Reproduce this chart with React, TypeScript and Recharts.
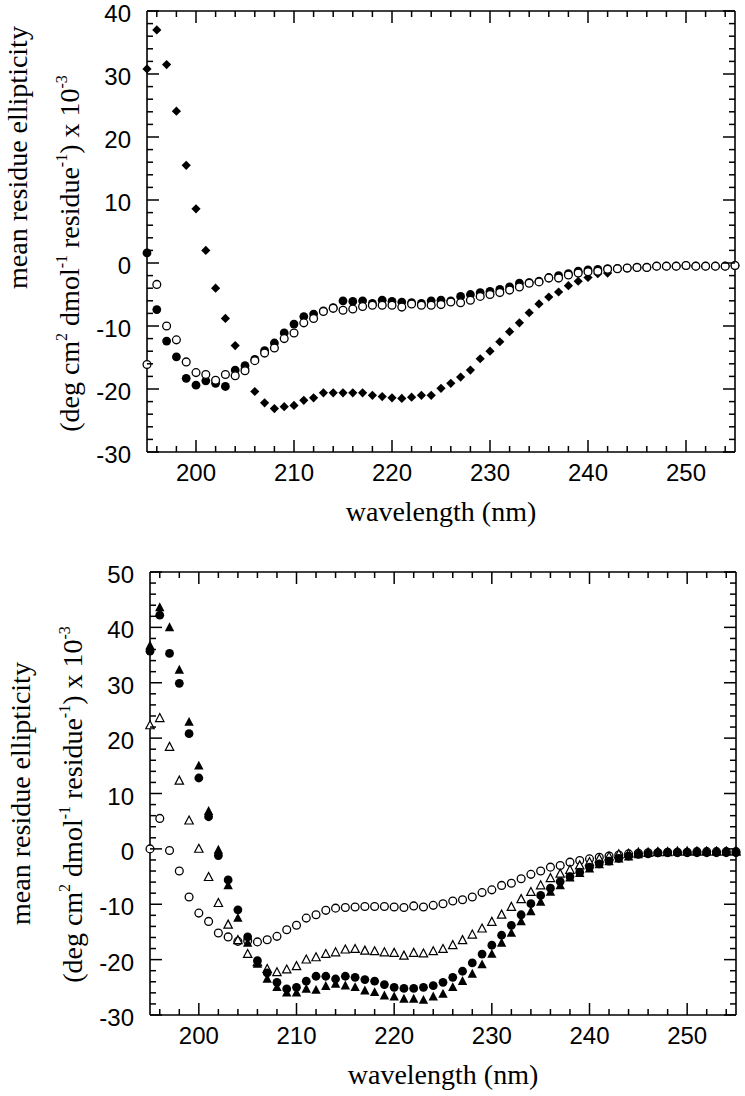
import React from 'react';
import { ScatterChart, Scatter, XAxis, YAxis } from 'recharts';

// ---------- data ----------
const WAVELENGTH = [
  195, 196, 197, 198, 199, 200, 201, 202, 203, 204,
  205, 206, 207, 208, 209, 210, 211, 212, 213, 214,
  215, 216, 217, 218, 219, 220, 221, 222, 223, 224,
  225, 226, 227, 228, 229, 230, 231, 232, 233, 234,
  235, 236, 237, 238, 239, 240, 241, 242, 243, 244,
  245, 246, 247, 248, 249, 250, 251, 252, 253, 254, 255,
];

// top panel
const TOP_DIAMOND = [
  30.8, 37.0, 31.5, 24.1, 15.5, 8.6, 2.0, -4.0, -8.8, -13.1,
  -16.8, -20.4, -22.2, -23.1, -22.8, -22.6, -21.8, -21.4, -20.6, -20.6,
  -20.6, -20.6, -20.6, -21.0, -21.2, -21.4, -21.5, -21.3, -21.0, -21.0,
  -19.9, -19.1, -18.1, -17.0, -15.2, -14.0, -12.5, -10.9, -9.5, -7.9,
  -6.5, -5.4, -4.6, -3.6, -2.9, -2.3, -1.7, -1.6,
];
const TOP_FILLED_CIRCLE = [
  1.6, -7.4, -12.4, -14.9, -18.3, -19.4, -18.7, -19.1, -19.6, -17.0,
  -16.3, -15.3, -13.9, -12.7, -11.1, -9.7, -8.5, -8.1, -7.6, -7.1,
  -6.0, -6.1, -6.0, -6.4, -5.9, -6.1, -6.2, -6.3, -6.4, -6.0,
  -5.9, -6.0, -5.3, -5.0, -4.7, -4.5, -4.2, -3.8, -3.2, -3.1,
  -2.9, -2.3, -2.0, -1.7, -1.3, -1.1, -1.0, -0.9, -0.9, -0.8,
  -0.7, -0.7, -0.5, -0.5, -0.5, -0.4, -0.5, -0.5, -0.5, -0.5, -0.4,
];
const TOP_OPEN_CIRCLE = [
  -16.1, -3.4, -10.0, -12.2, -15.7, -17.4, -17.7, -18.6, -17.7, -17.9,
  -17.1, -15.5, -14.3, -13.5, -12.0, -11.1, -9.5, -8.8, -7.7, -7.2,
  -7.5, -7.3, -6.9, -6.7, -6.7, -6.7, -7.0, -6.5, -6.7, -6.7,
  -6.6, -6.2, -6.3, -5.9, -5.3, -5.0, -4.7, -4.3, -3.8, -3.2,
  -3.0, -2.4, -2.4, -1.9, -1.6, -1.4, -1.3, -1.0, -0.9, -0.8,
  -0.7, -0.7, -0.5, -0.5, -0.5, -0.4, -0.5, -0.5, -0.5, -0.5, -0.4,
];

// bottom panel
const BOT_OPEN_CIRCLE = [
  0.0, 5.5, -0.3, -4.0, -8.7, -11.6, -13.1, -15.2, -15.9, -16.7,
  -16.6, -16.8, -16.4, -15.8, -14.6, -13.8, -12.5, -11.9, -11.1, -10.7,
  -10.6, -10.5, -10.4, -10.4, -10.4, -10.5, -10.6, -10.3, -10.5, -10.2,
  -9.9, -9.4, -9.2, -8.7, -7.9, -7.4, -6.6, -6.2, -5.4, -4.6,
  -4.0, -3.3, -3.0, -2.4, -2.1, -1.8, -1.5, -1.3, -1.1, -0.9,
  -0.8, -0.7, -0.7, -0.6, -0.6, -0.6, -0.5, -0.5, -0.5, -0.5, -0.5,
];
const BOT_OPEN_TRIANGLE = [
  22.3, 23.6, 18.4, 12.3, 5.1, 0.0, -5.1, -9.8, -13.7, -16.5,
  -19.0, -20.5, -21.7, -22.3, -21.8, -21.2, -20.0, -19.6, -19.0, -18.7,
  -18.2, -18.1, -18.4, -18.5, -18.7, -18.8, -19.3, -18.8, -18.9, -18.5,
  -18.1, -17.4, -16.5, -15.5, -14.4, -13.2, -11.9, -10.5, -9.1, -7.8,
  -6.6, -5.3, -4.5, -3.8, -3.0, -2.4, -1.8, -1.4, -1.0, -0.9,
  -0.7, -0.7, -0.6, -0.6, -0.5, -0.5, -0.5, -0.5, -0.5, -0.5, -0.5,
];
const BOT_FILLED_CIRCLE = [
  35.7, 42.2, 35.3, 29.9, 20.8, 12.8, 5.8, -1.2, -5.6, -11.0,
  -15.9, -20.2, -22.4, -24.1, -25.3, -25.0, -23.9, -23.0, -23.0, -23.5,
  -23.0, -23.2, -23.6, -23.9, -24.5, -25.0, -25.2, -25.2, -25.0, -24.7,
  -24.1, -23.2, -22.1, -20.6, -19.0, -17.4, -15.6, -13.8, -11.9, -9.9,
  -8.4, -7.1, -5.9, -5.0, -4.2, -3.3, -2.7, -2.2, -1.7, -1.3,
  -1.0, -0.9, -0.7, -0.7, -0.7, -0.7, -0.7, -0.7, -0.7, -0.7, -0.7,
];
const BOT_FILLED_TRIANGLE = [
  36.7, 43.6, 40.0, 32.3, 22.9, 15.0, 6.8, -0.2, -6.6, -12.5,
  -17.0, -20.8, -23.5, -25.0, -26.0, -26.0, -25.3, -25.5, -24.8, -24.4,
  -24.7, -25.0, -25.6, -25.9, -26.5, -26.7, -27.1, -27.1, -27.3, -26.7,
  -26.2, -25.0, -23.9, -22.6, -20.9, -19.0, -17.0, -15.2, -13.1, -11.3,
  -9.6, -7.8, -6.6, -5.2, -4.4, -3.6, -2.8, -2.3, -1.8, -1.4,
  -1.0, -0.8, -0.6, -0.6, -0.5, -0.5, -0.5, -0.5, -0.5, -0.5, -0.5,
];

// axes
const X_DOMAIN = [195, 255];
const TOP_Y_DOMAIN = [-30, 40];
const BOT_Y_DOMAIN = [-30, 50];
const X_TICKS = [
  196, 198, 200, 202, 204, 206, 208, 210, 212, 214, 216, 218, 220, 222, 224,
  226, 228, 230, 232, 234, 236, 238, 240, 242, 244, 246, 248, 250, 252, 254,
];
const TOP_Y_TICKS = [
  -30, -28, -26, -24, -22, -20, -18, -16, -14, -12, -10, -8, -6, -4, -2, 0,
  2, 4, 6, 8, 10, 12, 14, 16, 18, 20, 22, 24, 26, 28, 30, 32, 34, 36, 38, 40,
];
const BOT_Y_TICKS = [
  -30, -28, -26, -24, -22, -20, -18, -16, -14, -12, -10, -8, -6, -4, -2, 0,
  2, 4, 6, 8, 10, 12, 14, 16, 18, 20, 22, 24, 26, 28, 30, 32, 34, 36, 38, 40,
  42, 44, 46, 48, 50,
];

const X_TITLE = 'wavelength (nm)';
const Y_TITLE_1 = 'mean residue ellipticity';

const toPoints = (vals: number[]) => vals.map((v, i) => ({ x: WAVELENGTH[i], y: v }));
const isMajor = (v: number) => Math.abs(v) % 10 === 0;

// ---------- styling ----------
const INK = '#000000';
const SANS = "'Liberation Sans', Arial, Helvetica, sans-serif";
const SERIF = "'Liberation Serif', 'Times New Roman', serif";
const TICK_FONT = 24;
const TITLE_FONT = 28;
const MAJOR_LEN = 12;
const MINOR_LEN = 6;
const TICK_W = 1.5;
const AXIS_LINE = { stroke: INK, strokeWidth: 1.6 };

// ---------- marker shapes ----------
const Diamond = (p: any) => {
  const { cx, cy } = p;
  const r = 4.6;
  return <polygon points={`${cx},${cy - r} ${cx + r},${cy} ${cx},${cy + r} ${cx - r},${cy}`} fill={INK} />;
};
const FilledCircle = (p: any) => <circle cx={p.cx} cy={p.cy} r={4.4} fill={INK} />;
const OpenCircle = (p: any) => (
  <circle cx={p.cx} cy={p.cy} r={3.9} fill="#fff" stroke={INK} strokeWidth={1.3} />
);
const triPts = (cx: number, cy: number, s: number) =>
  `${cx},${cy - s * 1.1} ${cx + s},${cy + s * 0.8} ${cx - s},${cy + s * 0.8}`;
const FilledTriangle = (p: any) => <polygon points={triPts(p.cx, p.cy, 4.7)} fill={INK} />;
const OpenTriangle = (p: any) => (
  <polygon points={triPts(p.cx, p.cy, 4.2)} fill="#fff" stroke={INK} strokeWidth={1.2} />
);

// ---------- axis ticks: inward mark (major / minor) plus optional label ----------
const makeXTick = (side: string, showLabel: boolean) => (p: any) => {
  const x = Number(p.x);
  const y = Number(p.y);
  const v = p.payload.value;
  const major = isMajor(v);
  const len = major ? MAJOR_LEN : MINOR_LEN;
  const y2 = side === 'top' ? y + len : y - len;
  return (
    <g>
      <line x1={x} y1={y} x2={x} y2={y2} stroke={INK} strokeWidth={TICK_W} />
      {showLabel && major ? (
        <text x={x} y={y + 29} textAnchor="middle" fontFamily={SANS} fontSize={TICK_FONT} fill={INK} stroke="none">
          {v}
        </text>
      ) : null}
    </g>
  );
};
const makeYTick = (side: string, showLabel: boolean) => (p: any) => {
  const x = Number(p.x);
  const y = Number(p.y);
  const v = p.payload.value;
  const major = isMajor(v);
  const len = major ? MAJOR_LEN : MINOR_LEN;
  const x2 = side === 'right' ? x - len : x + len;
  return (
    <g>
      <line x1={x} y1={y} x2={x2} y2={y} stroke={INK} strokeWidth={TICK_W} />
      {showLabel && major ? (
        <text x={x - 16} y={y + 11} textAnchor="end" fontFamily={SANS} fontSize={TICK_FONT} fill={INK} stroke="none">
          {v}
        </text>
      ) : null}
    </g>
  );
};
const BottomTick = makeXTick('bottom', true);
const TopTick = makeXTick('top', false);
const LeftTick = makeYTick('left', true);
const RightTick = makeYTick('right', false);

// ---------- titles ----------
const XTitle = (p: any) => {
  const vb = p.viewBox;
  return (
    <text x={vb.x + vb.width / 2} y={vb.y + 69} textAnchor="middle" fontFamily={SERIF} fontSize={TITLE_FONT} fill={INK}>
      {X_TITLE}
    </text>
  );
};

const YTitle = (p: any) => {
  const { viewBox: vb, off1, off2 } = p;
  const left = vb.x + vb.width;
  const cy = vb.y + vb.height / 2;
  const x1 = left - 120;
  const x2 = left - 68;
  const y1 = cy + off1;
  const y2 = cy + off2;
  const sup = 16;
  return (
    <g fontFamily={SERIF} fill={INK}>
      <text x={x1} y={y1} textAnchor="middle" fontSize={TITLE_FONT} transform={`rotate(-90, ${x1}, ${y1})`}>
        {Y_TITLE_1}
      </text>
      <text x={x2} y={y2} textAnchor="middle" fontSize={TITLE_FONT} transform={`rotate(-90, ${x2}, ${y2})`}>
        <tspan>(deg cm</tspan>
        <tspan fontSize={sup} dy={-12}>2</tspan>
        <tspan dy={12}> dmol</tspan>
        <tspan fontSize={sup} dy={-12}>-1</tspan>
        <tspan dy={12}> residue</tspan>
        <tspan fontSize={sup} dy={-12}>-1</tspan>
        <tspan dy={12}>) x 10</tspan>
        <tspan fontSize={sup} dy={-12}>-3</tspan>
      </text>
    </g>
  );
};

export default function App() {
  return (
    <div style={{ position: 'absolute', left: 0, top: 0, width: 745, height: 1096, background: '#fff' }}>
      <div style={{ position: 'absolute', left: 0, top: 0 }}>
        <ScatterChart width={745} height={545} margin={{ top: 10, right: 9, bottom: 33, left: 87 }}>
          <XAxis xAxisId="b" type="number" dataKey="x" orientation="bottom" domain={X_DOMAIN} ticks={X_TICKS}
            interval={0} height={60} tickSize={0} tickMargin={0} tickLine={false} axisLine={AXIS_LINE}
            tick={BottomTick} label={{ content: (p: any) => <XTitle {...p} /> }} />
          <XAxis xAxisId="t" type="number" dataKey="x" orientation="top" domain={X_DOMAIN} ticks={X_TICKS}
            interval={0} height={1} tickSize={0} tickMargin={0} tickLine={false} axisLine={AXIS_LINE}
            tick={TopTick} />
          <YAxis yAxisId="l" type="number" dataKey="y" orientation="left" domain={TOP_Y_DOMAIN} ticks={TOP_Y_TICKS}
            interval={0} width={60} tickSize={0} tickMargin={0} tickLine={false} axisLine={AXIS_LINE}
            tick={LeftTick}
            label={{ content: (p: any) => <YTitle {...p} off1={-74} off2={22} /> }} />
          <YAxis yAxisId="r" type="number" dataKey="y" orientation="right" domain={TOP_Y_DOMAIN} ticks={TOP_Y_TICKS}
            interval={0} width={1} tickSize={0} tickMargin={0} tickLine={false} axisLine={AXIS_LINE}
            tick={RightTick} />

          <Scatter data={toPoints(TOP_DIAMOND)} xAxisId="t" yAxisId="r" shape={Diamond} isAnimationActive={false} />
          <Scatter data={toPoints(TOP_FILLED_CIRCLE)} xAxisId="b" yAxisId="l" shape={FilledCircle} isAnimationActive={false} />
          <Scatter data={toPoints(TOP_OPEN_CIRCLE)} xAxisId="b" yAxisId="l" shape={OpenCircle} isAnimationActive={false} />
        </ScatterChart>
      </div>
      <div style={{ position: 'absolute', left: 0, top: 545 }}>
        <ScatterChart width={745} height={551} margin={{ top: 26, right: 8, bottom: 21, left: 90 }}>
          <XAxis xAxisId="b" type="number" dataKey="x" orientation="bottom" domain={X_DOMAIN} ticks={X_TICKS}
            interval={0} height={60} tickSize={0} tickMargin={0} tickLine={false} axisLine={AXIS_LINE}
            tick={BottomTick} label={{ content: (p: any) => <XTitle {...p} /> }} />
          <XAxis xAxisId="t" type="number" dataKey="x" orientation="top" domain={X_DOMAIN} ticks={X_TICKS}
            interval={0} height={1} tickSize={0} tickMargin={0} tickLine={false} axisLine={AXIS_LINE}
            tick={TopTick} />
          <YAxis yAxisId="l" type="number" dataKey="y" orientation="left" domain={BOT_Y_DOMAIN} ticks={BOT_Y_TICKS}
            interval={0} width={60} tickSize={0} tickMargin={0} tickLine={false} axisLine={AXIS_LINE}
            tick={LeftTick}
            label={{ content: (p: any) => <YTitle {...p} off1={0} off2={11} /> }} />
          <YAxis yAxisId="r" type="number" dataKey="y" orientation="right" domain={BOT_Y_DOMAIN} ticks={BOT_Y_TICKS}
            interval={0} width={1} tickSize={0} tickMargin={0} tickLine={false} axisLine={AXIS_LINE}
            tick={RightTick} />

          <Scatter data={toPoints(BOT_OPEN_CIRCLE)} xAxisId="t" yAxisId="r" shape={OpenCircle} isAnimationActive={false} />
          <Scatter data={toPoints(BOT_OPEN_TRIANGLE)} xAxisId="b" yAxisId="l" shape={OpenTriangle} isAnimationActive={false} />
          <Scatter data={toPoints(BOT_FILLED_TRIANGLE)} xAxisId="b" yAxisId="l" shape={FilledTriangle} isAnimationActive={false} />
          <Scatter data={toPoints(BOT_FILLED_CIRCLE)} xAxisId="b" yAxisId="l" shape={FilledCircle} isAnimationActive={false} />
        </ScatterChart>
      </div>
    </div>
  );
}
